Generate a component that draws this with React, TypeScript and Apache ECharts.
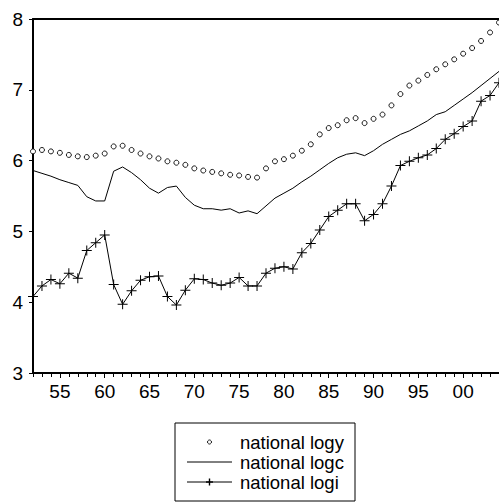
import React, { useEffect, useRef } from "react";
import * as echarts from "echarts";

// Annual observations, 1952–2004
const firstYear = 1952;
const lastYear = 2004;

const logy = [
  6.13, 6.15, 6.13, 6.11, 6.08, 6.06, 6.05, 6.07, 6.10, 6.20,
  6.21, 6.15, 6.10, 6.06, 6.03, 5.99, 5.97, 5.94, 5.89, 5.86,
  5.84, 5.82, 5.80, 5.79, 5.77, 5.76, 5.89, 5.99, 6.02, 6.07,
  6.14, 6.23, 6.37, 6.46, 6.50, 6.57, 6.60, 6.53, 6.59, 6.65,
  6.78, 6.94, 7.06, 7.13, 7.21, 7.29, 7.36, 7.43, 7.51, 7.59,
  7.69, 7.81, 7.95,
];

const logc = [
  5.86, 5.82, 5.78, 5.73, 5.69, 5.65, 5.49, 5.43, 5.43, 5.85,
  5.91, 5.83, 5.73, 5.61, 5.54, 5.62, 5.64, 5.48, 5.37, 5.32,
  5.32, 5.30, 5.32, 5.26, 5.29, 5.25, 5.36, 5.47, 5.54, 5.61,
  5.70, 5.78, 5.87, 5.96, 6.04, 6.09, 6.11, 6.07, 6.14, 6.23,
  6.30, 6.37, 6.42, 6.49, 6.56, 6.65, 6.69, 6.78, 6.87, 6.96,
  7.06, 7.16, 7.26,
];

const logi = [
  4.08, 4.23, 4.32, 4.26, 4.41, 4.34, 4.73, 4.84, 4.95, 4.25,
  3.97, 4.16, 4.31, 4.36, 4.37, 4.08, 3.96, 4.17, 4.33, 4.32,
  4.27, 4.24, 4.27, 4.35, 4.23, 4.23, 4.41, 4.48, 4.50, 4.47,
  4.70, 4.83, 5.02, 5.21, 5.30, 5.39, 5.39, 5.15, 5.24, 5.39,
  5.64, 5.93, 5.99, 6.04, 6.08, 6.17, 6.30, 6.38, 6.48, 6.56,
  6.84, 6.92, 7.10,
];

const seriesNames = ["national logy", "national logc", "national logi"];
const majorYears = [1955, 1960, 1965, 1970, 1975, 1980, 1985, 1990, 1995, 2000];

const FONT = "'Liberation Sans', Arial, sans-serif";
// thin filled cross used as the point marker of the third series
const plusPath = "path://M6.3,0h1.4v6.3h6.3v1.4h-6.3v6.3h-1.4v-6.3h-6.3v-1.4h6.3z";

function pairs(values: number[]): [number, number][] {
  return values.map((v, i) => [firstYear + i, v]);
}

export default function App() {
  const ref = useRef<HTMLDivElement>(null);

  useEffect(() => {
    document.body.style.margin = "0";
    if (!ref.current) return;
    const chart = echarts.init(ref.current, undefined, { renderer: "svg" });

    const legendLeft = 175;
    const legendTop = 423;
    const rowY = [442, 462, 482];
    const sampleX0 = 187;
    const sampleX1 = 232;
    const sampleMid = (sampleX0 + sampleX1) / 2;

    chart.setOption({
      animation: false,
      backgroundColor: "#fff",
      grid: { left: 33, right: 0, top: 19, bottom: 129, containLabel: false },
      xAxis: [
        {
          type: "value",
          min: firstYear,
          max: lastYear,
          position: "bottom",
          axisLine: { show: true, lineStyle: { color: "#000", width: 2 } },
          axisTick: {
            show: true,
            customValues: majorYears,
            length: 5,
            lineStyle: { color: "#000", width: 1 },
          },
          axisLabel: {
            show: true,
            customValues: majorYears,
            formatter: (v: number) => String(v % 100).padStart(2, "0"),
            color: "#000",
            fontSize: 19,
            fontFamily: FONT,
            margin: 9,
          },
          splitLine: { show: false },
        },
        {
          type: "value",
          min: firstYear,
          max: lastYear,
          interval: 1,
          position: "bottom",
          axisLine: { show: false },
          axisTick: { show: true, length: 4, lineStyle: { color: "#000", width: 1 } },
          axisLabel: { show: false },
          splitLine: { show: false },
        },
        {
          type: "value",
          min: firstYear,
          max: lastYear,
          position: "top",
          axisLine: { show: true, lineStyle: { color: "#000", width: 2 } },
          axisTick: { show: false },
          axisLabel: { show: false },
          splitLine: { show: false },
        },
      ],
      yAxis: {
        type: "value",
        min: 3,
        max: 8,
        interval: 1,
        axisLine: { show: true, lineStyle: { color: "#000", width: 2 } },
        axisTick: { show: true, length: 4, lineStyle: { color: "#000", width: 1 } },
        axisLabel: { color: "#000", fontSize: 19, fontFamily: FONT, margin: 10 },
        splitLine: { show: false },
      },
      series: [
        {
          name: seriesNames[0],
          type: "line",
          data: pairs(logy),
          symbol: "circle",
          symbolSize: 5,
          showAllSymbol: true,
          lineStyle: { opacity: 0 },
          itemStyle: { color: "#fff", borderColor: "#000", borderWidth: 0.9 },
          z: 3,
        },
        {
          name: seriesNames[1],
          type: "line",
          data: pairs(logc),
          symbol: "none",
          lineStyle: { color: "#000", width: 1 },
          z: 2,
        },
        {
          name: seriesNames[2],
          type: "line",
          data: pairs(logi),
          symbol: plusPath,
          symbolSize: 10,
          showAllSymbol: true,
          lineStyle: { color: "#000", width: 1 },
          itemStyle: { color: "#000", borderWidth: 0 },
          z: 2,
        },
      ],
      graphic: [
        {
          type: "rect",
          shape: { x: legendLeft, y: legendTop, width: 180, height: 78 },
          style: { fill: "#fff", stroke: "#000", lineWidth: 1 },
          z: 10,
        },
        {
          type: "circle",
          shape: { cx: sampleMid, cy: rowY[0], r: 2 },
          style: { fill: "#fff", stroke: "#000", lineWidth: 0.9 },
          z: 11,
        },
        {
          type: "line",
          shape: { x1: sampleX0, y1: rowY[1], x2: sampleX1, y2: rowY[1] },
          style: { stroke: "#000", lineWidth: 1 },
          z: 11,
        },
        {
          type: "line",
          shape: { x1: sampleX0, y1: rowY[2], x2: sampleX1, y2: rowY[2] },
          style: { stroke: "#000", lineWidth: 1 },
          z: 11,
        },
        {
          type: "line",
          shape: { x1: sampleMid - 3.5, y1: rowY[2], x2: sampleMid + 3.5, y2: rowY[2] },
          style: { stroke: "#000", lineWidth: 1.4 },
          z: 11,
        },
        {
          type: "line",
          shape: { x1: sampleMid, y1: rowY[2] - 3.5, x2: sampleMid, y2: rowY[2] + 3.5 },
          style: { stroke: "#000", lineWidth: 1.4 },
          z: 11,
        },
        ...seriesNames.map((name, i) => ({
          type: "text",
          x: 240,
          y: rowY[i],
          style: {
            text: name,
            fill: "#000",
            fontSize: 18.5,
            fontFamily: FONT,
            verticalAlign: "middle",
            align: "left",
          },
          z: 11,
        })),
      ],
    });

    return () => chart.dispose();
  }, []);

  return <div ref={ref} style={{ width: 499, height: 502 }} />;
}
